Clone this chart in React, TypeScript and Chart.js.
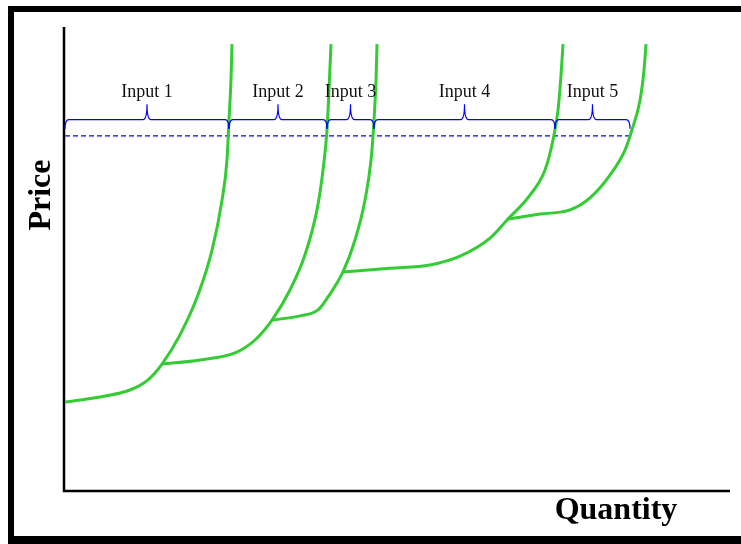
import React, { useEffect, useRef } from "react";
import { Chart, registerables } from "chart.js";

Chart.register(...registerables);

// Supply curves (Quantity 0-100, Price 0-100)
const curve1X = [0, 5.26, 9.77, 12.48, 14.59, 17.29, 19.99, 22.11, 23.61, 24.36, 24.66, 24.96, 25.11];
const curve1Y = [19.0, 20.1, 21.6, 23.8, 27.2, 33.5, 42.1, 51.8, 62.6, 71.3, 79.9, 88.6, 96.3];

const curve2X = [14.59, 20.3, 25.56, 28.57, 31.13, 33.83, 36.09, 37.89, 38.8, 39.4, 39.7, 40.0];
const curve2Y = [27.2, 28.1, 29.6, 32.4, 36.7, 43.2, 50.8, 60.5, 69.1, 77.8, 86.4, 96.3];

const curve3X = [31.13, 35.34, 38.05, 39.55, 41.8, 43.61, 45.11, 46.02, 46.47, 46.77, 46.92];
const curve3Y = [36.7, 37.6, 38.9, 41.7, 47.1, 54.0, 62.6, 71.3, 79.9, 88.6, 96.3];

const curve4X = [41.8, 48.87, 54.89, 59.4, 63.91, 66.47, 69.92, 72.18, 73.38, 74.14, 74.59, 74.89];
const curve4Y = [47.1, 47.9, 48.6, 50.5, 54.4, 58.3, 63.7, 69.1, 75.6, 82.1, 89.6, 96.3];

const curve5X = [66.47, 71.43, 75.94, 78.95, 81.95, 84.21, 85.26, 86.47, 87.07, 87.37];
const curve5Y = [58.5, 59.6, 60.5, 63.1, 68.0, 73.4, 77.8, 84.2, 90.7, 96.3];

const inputLabels = ["Input 1", "Input 2", "Input 3", "Input 4", "Input 5"];
const inputBounds = [0, 24.66, 39.4, 46.47, 73.68, 84.96];
const priceLevel = 76.5;
const braceBase = 78.0;
const braceTop = 80.0;
const braceTip = 83.3;
const labelLevel = 86.0;

const xTitle = "Quantity";
const yTitle = "Price";

const GREEN = "rgb(51,204,51)";
const BLUE = "rgb(0,0,255)";

const toPts = (xs: number[], ys: number[]) => xs.map((x, i) => ({ x, y: ys[i] }));

const curveDs = (xs: number[], ys: number[]) => ({
  data: toPts(xs, ys),
  showLine: true,
  borderColor: GREEN,
  borderWidth: 3,
  pointRadius: 0,
  cubicInterpolationMode: "monotone",
  fill: false,
});

const overlayPlugin = {
  id: "overlay",
  beforeDatasetsDraw(chart: any) {
    const { ctx, chartArea } = chart;
    ctx.save();
    ctx.strokeStyle = "#000";
    ctx.lineWidth = 2.5;
    ctx.beginPath();
    ctx.moveTo(chartArea.left - 1, chartArea.top);
    ctx.lineTo(chartArea.left - 1, chartArea.bottom + 1);
    ctx.lineTo(chartArea.right, chartArea.bottom + 1);
    ctx.stroke();
    ctx.restore();
  },
  afterDatasetsDraw(chart: any) {
    const { ctx, chartArea } = chart;
    const xs = chart.scales.x;
    const ys = chart.scales.y;
    ctx.save();
    ctx.strokeStyle = BLUE;
    ctx.lineWidth = 1.2;
    const yB = ys.getPixelForValue(braceBase);
    const yT = ys.getPixelForValue(braceTop);
    const yP = ys.getPixelForValue(braceTip);
    const yL = ys.getPixelForValue(labelLevel);
    for (let i = 0; i < inputLabels.length; i++) {
      const xa = xs.getPixelForValue(inputBounds[i]);
      const xb = xs.getPixelForValue(inputBounds[i + 1]);
      const xm = (xa + xb) / 2;
      const r = 4;
      ctx.beginPath();
      ctx.moveTo(xa, yB);
      ctx.quadraticCurveTo(xa, yT, xa + r, yT);
      ctx.lineTo(xm - r, yT);
      ctx.quadraticCurveTo(xm, yT, xm, yP);
      ctx.quadraticCurveTo(xm, yT, xm + r, yT);
      ctx.lineTo(xb - r, yT);
      ctx.quadraticCurveTo(xb, yT, xb, yB);
      ctx.stroke();
      ctx.fillStyle = "#111";
      ctx.font = "18px 'Liberation Serif', 'Times New Roman', serif";
      ctx.textAlign = "center";
      ctx.textBaseline = "middle";
      ctx.fillText(inputLabels[i], xm, yL);
    }
    ctx.fillStyle = "#000";
    ctx.font = "bold 32px 'Liberation Serif', 'Times New Roman', serif";
    ctx.textAlign = "center";
    ctx.textBaseline = "middle";
    ctx.fillText(xTitle, 616, chartArea.bottom + 21);
    ctx.translate(42, 195);
    ctx.rotate(-Math.PI / 2);
    ctx.fillText(yTitle, 0, 0);
    ctx.restore();
  },
};

export default function App() {
  const ref = useRef<HTMLCanvasElement | null>(null);
  useEffect(() => {
    if (!ref.current) return;
    const chart = new Chart(ref.current, {
      type: "scatter",
      data: {
        datasets: [
          curveDs(curve1X, curve1Y) as any,
          curveDs(curve2X, curve2Y) as any,
          curveDs(curve3X, curve3Y) as any,
          curveDs(curve4X, curve4Y) as any,
          curveDs(curve5X, curve5Y) as any,
          {
            data: [
              { x: inputBounds[0], y: priceLevel },
              { x: inputBounds[inputBounds.length - 1], y: priceLevel },
            ],
            showLine: true,
            borderColor: BLUE,
            borderWidth: 1.2,
            borderDash: [5, 3],
            pointRadius: 0,
            fill: false,
          } as any,
        ],
      },
      options: {
        animation: false,
        responsive: false,
        events: [],
        layout: { padding: { left: 65, right: 11, top: 27, bottom: 54 } },
        plugins: { legend: { display: false }, tooltip: { enabled: false } },
        scales: {
          x: { type: "linear", min: 0, max: 100, display: false },
          y: { type: "linear", min: 0, max: 100, display: false },
        },
      },
      plugins: [overlayPlugin],
    });
    return () => chart.destroy();
  }, []);
  return (
    <div
      style={{
        position: "fixed",
        left: 0,
        top: 0,
        width: 741,
        height: 544,
        overflow: "hidden",
        background: "#fff",
      }}
    >
      <canvas ref={ref} width={741} height={544} style={{ position: "absolute", left: 0, top: 0 }} />
      <div
        style={{
          position: "absolute",
          left: 8,
          top: 6,
          width: 800,
          height: 538,
          boxSizing: "border-box",
          borderTop: "6px solid #000",
          borderLeft: "6px solid #000",
          borderBottom: "8px solid #000",
          pointerEvents: "none",
        }}
      />
    </div>
  );
}
